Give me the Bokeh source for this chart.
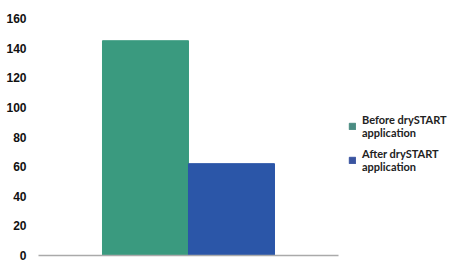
from bokeh.plotting import figure
from bokeh.models import Range1d, Legend, LegendItem, ColumnDataSource, FixedTicker
from bokeh.embed import file_html
from bokeh.resources import INLINE

categories = ["Before drySTART\napplication", "After drySTART\napplication"]
values = [145, 62]
positions = [0, 1]
colors = ["#3a9a7f", "#2b56a8"]
legend_colors = ["#4a8c82", "#3a54a0"]
y_ticks = [0, 20, 40, 60, 80, 100, 120, 140, 160]

p = figure(width=454, height=262, output_backend="svg", toolbar_location=None,
           x_range=Range1d(-1.244, 3.593), y_range=Range1d(0, 160),
           min_border_left=38, min_border_top=18, min_border_bottom=7, min_border_right=0)
p.outline_line_color = None
p.grid.visible = False

src = ColumnDataSource(dict(x=positions, top=values, color=colors, label=categories))
p.vbar(x="x", top="top", width=1.0, bottom=0, color="color", source=src)

p.yaxis.ticker = y_ticks
p.yaxis.axis_line_color = None
p.yaxis.major_tick_line_color = None
p.yaxis.minor_tick_line_color = None
p.yaxis.major_label_text_font = "Liberation Sans"
p.yaxis.major_label_text_font_style = "bold"
p.yaxis.major_label_text_font_size = "12px"
p.yaxis.major_label_text_color = "#111111"
p.yaxis.major_label_standoff = 6

p.xaxis.bounds = (-1.244, 2.244)
p.xaxis.ticker = FixedTicker(ticks=[])
p.xaxis.major_tick_line_color = None
p.xaxis.minor_tick_line_color = None
p.xaxis.axis_line_color = "#aaaaaa"
p.xaxis.axis_line_width = 1.5

items = []
for i, lab in enumerate(categories):
    r = p.vbar(x=[positions[i]], top=[0], bottom=[0], width=0, color=legend_colors[i])
    items.append(LegendItem(label=lab, renderers=[r]))
legend = Legend(items=items, location=(310, 82), glyph_width=8, glyph_height=8,
                label_text_font="Lato", label_text_font_style="bold",
                label_text_font_size="11px", label_text_color="#222222",
                label_text_line_height=1.25, spacing=8, padding=0, margin=0,
                border_line_color=None, background_fill_alpha=0, label_standoff=6)
p.add_layout(legend)

open("out.html", "w").write(file_html(p, INLINE))
